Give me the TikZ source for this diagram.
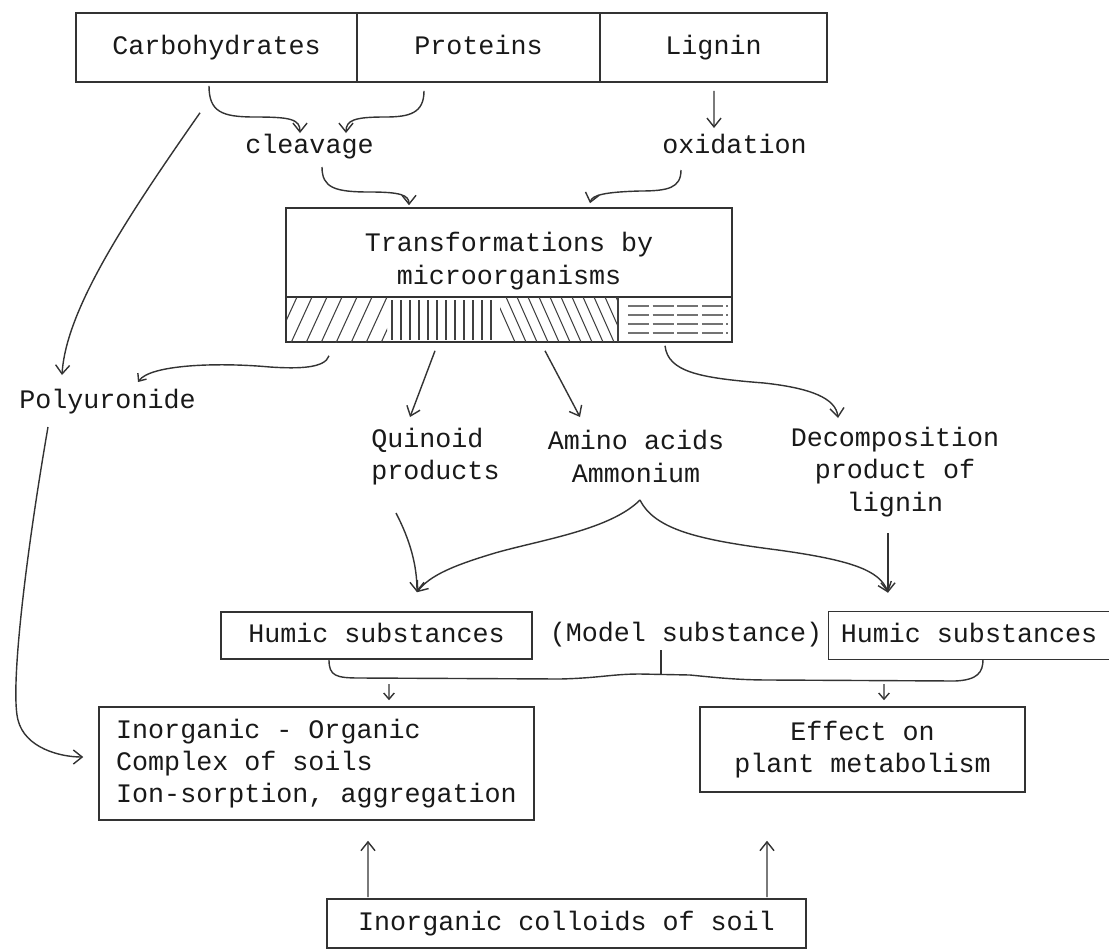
\documentclass[tikz,border=0pt]{standalone}
\usepackage{fontspec}
\setmainfont{Liberation Mono}
\usetikzlibrary{arrows.meta,calc}
\begin{document}
\begin{tikzpicture}[x=0.02cm,y=-0.02cm,
  every node/.style={font=\fontsize{15.2}{18.4}\selectfont, text=black!90, inner sep=0pt},
  sl/.style={text height=10.5pt, text depth=3pt},
  box/.style={draw=black!80, line width=0.9pt},
  ln/.style={draw=black!80, line width=0.8pt},
  arr/.style={ln, -{Straight Barb[length=5pt,width=8pt]}},
  sarr/.style={ln, -{Straight Barb[length=3.5pt,width=6pt]}},
  hatch/.style={draw=black!75, line width=0.6pt}]
\fill[white] (0,0) rectangle (1109,951);
\useasboundingbox (0,0) rectangle (1109,951);

% top row
\node[box, sl, minimum width=5.62cm, minimum height=1.38cm] (carb) at (216.5,47.5) {Carbohydrates};
\node[box, sl, minimum width=4.86cm, minimum height=1.38cm] (prot) at (478.5,47.5) {Proteins};
\node[box, sl, minimum width=4.54cm, minimum height=1.38cm] (lig) at (713.5,47.5) {Lignin};

\node[sl] (clv) at (309.5,147) {cleavage};
\node[sl] (oxi) at (734.5,147) {oxidation};

% transformations box
\node[box, minimum width=8.92cm, minimum height=2.68cm] (trans) at (509,275) {};
\node[align=center] (transtxt) at (509,261) {Transformations by\\microorganisms};
\draw[ln] (286,297) -- (732,297);
\begin{scope}
 \clip (287,297) rectangle (387,342);
 \foreach \i in {0,...,8} \draw[hatch] ({275+\i*15},345) -- ({297+\i*15},297);
\end{scope}
\begin{scope}
 \clip (387,297) rectangle (500,342);
 \foreach \x in {392,401,...,497} \draw[hatch] (\x,300) -- (\x,340);
\end{scope}
\begin{scope}
 \clip (500,297) rectangle (618,342);
 \foreach \i in {0,...,11} \draw[hatch] ({495+\i*11},297) -- ({515+\i*11},342);
\end{scope}
\draw[hatch] (618,297) -- (618,342);
\foreach \y in {306,315,324,333} \draw[hatch, black!55, dash pattern=on 12pt off 2pt] (628,\y) -- (728,\y);

% middle texts
\node[sl] (poly) at (107.5,402) {Polyuronide};
\node[anchor=west, align=left] (quin) at (371,456.5) {Quinoid\\products};
\node[align=center] (amino) at (636,456.5) {Amino acids\\Ammonium};
\node[align=center] (dec) at (895,472) {Decomposition\\product of\\ lignin};

% humic row
\node[box, sl, minimum width=6.22cm, minimum height=0.94cm] (huml) at (376.5,635.5) {Humic substances};
\node[sl] (model) at (686,635) {(Model substance)};
\node[sl, minimum width=5.6cm, minimum height=0.94cm] (humr) at (969,635.5) {Humic substances};
\draw[box] (humr.north east) -- (humr.north west) -- (humr.south west) -- (humr.south east);

% lower boxes
\node[box, minimum width=8.7cm, minimum height=2.26cm, align=left] (inorg) at (316.5,763.5)
  {Inorganic - Organic\\Complex of soils\\Ion-sorption, aggregation};
\node[box, minimum width=6.5cm, minimum height=1.7cm, align=center] (eff) at (862.5,749.5)
  {Effect on\\plant metabolism};
\node[box, sl, minimum width=9.58cm, minimum height=0.98cm] (coll) at (566.5,923.5) {Inorganic colloids of soil};

% connectors top
\draw[arr] ($(carb.south)+(-7.5,3)$) .. controls (209,112) and (222,117) .. (255,117)
   .. controls (290,117) and (300,119) .. ($(clv)+(-9.5,-14)$);
\draw[arr] ($(prot.south)+(-54.5,8)$) .. controls (424,113) and (410,117) .. (385,117)
   .. controls (355,117) and (346,120) .. ($(clv)+(36.5,-14)$);
\draw[arr] ($(lig.south)+(0.5,8)$) -- ($(oxi)+(-20.5,-19)$);
\draw[arr] ($(clv)+(12.5,20)$) .. controls (322,188) and (335,192) .. (370,192)
   .. controls (400,192) and (409,195) .. ($(trans.north)+(-100,-2)$);
\draw[arr] ($(oxi)+(-53.5,23)$) .. controls (681,188) and (668,191) .. (640,191)
   .. controls (605,192) and (592,195) .. ($(trans.north)+(81,-4)$);

% polyuronide paths
\draw[arr] ($(carb.south)+(-16.5,30)$) .. controls (125,220) and (66,310) .. ($(poly)+(-45.5,-27)$);
\draw[sarr] ($(trans.south)+(-180,13)$) .. controls (325,368) and (300,369) .. (270,367)
   .. controls (215,362) and (150,365) .. ($(poly)+(30.5,-20)$);
\draw[arr] ($(poly)+(-59.5,25)$) .. controls (25,560) and (10,690) .. (18,720)
   .. controls (25,748) and (60,757) .. ($(inorg.west)+(-15,-6.5)$);

% from bar
\draw[arr] ($(trans.south)+(-74,8)$) -- ($(quin.west)+(39,-39.5)$);
\draw[arr] ($(trans.south)+(36,8)$) -- ($(amino)+(-56,-39.5)$);
\draw[arr] ($(trans.south)+(156,3)$) .. controls (668,372) and (700,378) .. (764,383)
   .. controls (810,388) and (836,398) .. ($(dec)+(-57,-54)$);

% to humic
\draw[arr] ($(quin.west)+(25,56.5)$) .. controls (410,540) and (417,565) .. ($(huml.north)+(40.5,-19)$);
\draw[arr] ($(amino)+(4,43.5)$) .. controls (610,530) and (540,540) .. (495,553)
   .. controls (455,565) and (430,575) .. ($(huml.north)+(40.5,-19)$);
\draw[arr] ($(amino)+(4,43.5)$) .. controls (655,530) and (700,540) .. (778,550)
   .. controls (850,560) and (880,570) .. ($(humr.north)+(-81,-19)$);
\draw[arr] ($(dec)+(-7,61)$) -- ($(humr.north)+(-81,-19)$);

% brace
\draw[ln] ($(huml.south)+(-47.5,0)$) .. controls (329,676) and (336,678) .. (360,678)
   -- (560,679) .. controls (600,678) and (612,674) .. (640,674) -- (690,675)
   .. controls (720,678) and (740,680) .. (770,680) -- (955,681)
   .. controls (978,680) and (983,672) .. ($(humr.south)+(14,0)$);
\draw[ln] ($(model)+(-25,15)$) -- (661,675);
\coordinate (bl) at (389,684);
\coordinate (br) at (884,684);
\draw[sarr] (bl) -- ($(inorg.north)+(72.5,-6)$);
\draw[sarr] (br) -- ($(eff.north)+(21.5,-6)$);

% bottom arrows
\draw[arr] ($(coll.north)+(-198.5,-1)$) -- ($(inorg.south)+(51.5,20)$);
\draw[arr] ($(coll.north)+(200.5,-1)$) -- ($(eff.south)+(-95.5,48)$);
\end{tikzpicture}
\end{document}
